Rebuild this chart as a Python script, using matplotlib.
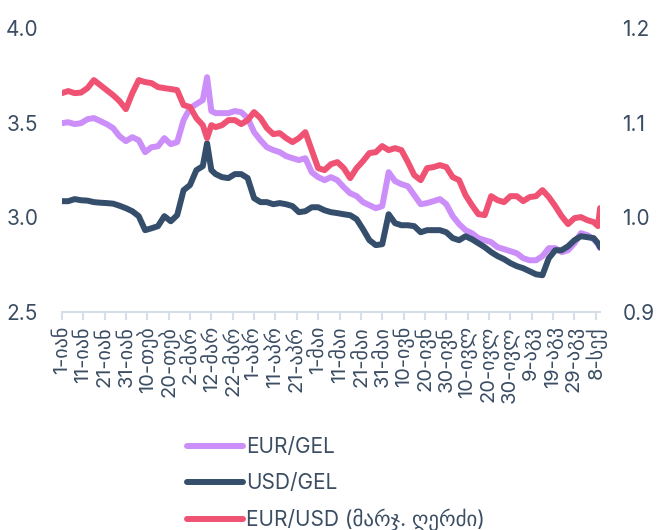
import matplotlib.pyplot as plt

plt.rcParams['font.family'] = ['Inter', 'DejaVu Sans']

# day offsets from 1 January
days = [0, 3, 6, 9, 12, 15, 18, 21, 24, 27, 30, 33, 36, 39, 42, 45, 48, 51, 54, 57, 60, 63, 66,
        68, 70, 72,
        75, 78, 81, 84, 87, 90, 93, 96, 99, 102, 105, 108, 111, 114, 117, 120, 123, 126, 129,
        132, 135, 138, 141, 144, 147, 150, 153, 156, 159, 162, 165, 168, 171, 174, 177, 180,
        183, 186, 189, 192, 195, 198, 201, 204, 207, 210, 213, 216, 219, 222, 225, 228, 231,
        234, 237, 240, 243, 246, 249, 251, 252]

eur_gel = [3.498, 3.503, 3.493, 3.498, 3.519, 3.525, 3.509, 3.493, 3.472, 3.429, 3.403, 3.424,
           3.408, 3.345, 3.371, 3.376, 3.419, 3.387, 3.398, 3.514, 3.577, 3.599, 3.620,
           3.741, 3.562, 3.551,
           3.551, 3.551, 3.562, 3.556, 3.525, 3.451, 3.408, 3.371, 3.356, 3.345, 3.324, 3.313,
           3.303, 3.313, 3.239, 3.213, 3.197, 3.213, 3.197, 3.160, 3.128, 3.113, 3.081, 3.065,
           3.049, 3.060, 3.239, 3.192, 3.176, 3.165, 3.118, 3.070, 3.076, 3.086, 3.097, 3.070,
           3.007, 2.965, 2.933, 2.917, 2.891, 2.880, 2.870, 2.843, 2.833, 2.822, 2.811, 2.785,
           2.774, 2.774, 2.796, 2.838, 2.838, 2.817, 2.827, 2.864, 2.917, 2.907, 2.885, 2.859,
           2.838]

usd_gel = [3.086, 3.086, 3.097, 3.091, 3.089, 3.081, 3.078, 3.076, 3.073, 3.062, 3.049, 3.033,
           3.007, 2.933, 2.943, 2.954, 3.007, 2.980, 3.012, 3.144, 3.171, 3.250, 3.271,
           3.392, 3.250, 3.229,
           3.213, 3.208, 3.229, 3.229, 3.208, 3.102, 3.081, 3.081, 3.070, 3.076, 3.070, 3.060,
           3.028, 3.033, 3.054, 3.054, 3.038, 3.028, 3.023, 3.017, 3.012, 2.991, 2.938, 2.880,
           2.854, 2.859, 3.017, 2.970, 2.959, 2.959, 2.954, 2.922, 2.933, 2.933, 2.933, 2.922,
           2.891, 2.880, 2.901, 2.885, 2.864, 2.843, 2.817, 2.796, 2.780, 2.759, 2.743, 2.732,
           2.716, 2.700, 2.695, 2.785, 2.827, 2.827, 2.848, 2.880, 2.901, 2.896, 2.891, 2.864,
           2.843]

eur_usd = [1.1313, 1.1335, 1.1313, 1.1319, 1.1366, 1.1451, 1.1398, 1.1345, 1.1292, 1.1229,
           1.1144, 1.1313, 1.1451, 1.1430, 1.1419, 1.1377, 1.1366, 1.1356, 1.1345, 1.1187,
           1.1166, 1.1049, 1.0975,
           1.0838, 1.0975, 1.0954,
           1.0975, 1.1028, 1.1028, 1.0986, 1.1028, 1.1113, 1.1049, 1.0944, 1.0880, 1.0891,
           1.0838, 1.0796, 1.0838, 1.0901, 1.0711, 1.0521, 1.0500, 1.0563, 1.0585, 1.0521,
           1.0416, 1.0521, 1.0595, 1.0680, 1.0690, 1.0754, 1.0711, 1.0732, 1.0711, 1.0585,
           1.0447, 1.0394, 1.0521, 1.0532, 1.0553, 1.0532, 1.0426, 1.0394, 1.0236, 1.0130,
           1.0035, 1.0025, 1.0225, 1.0183, 1.0162, 1.0225, 1.0225, 1.0173, 1.0215, 1.0225,
           1.0289, 1.0215, 1.0120, 1.0014, 0.9930, 0.9993, 1.0004, 0.9972, 0.9951, 0.9909,
           1.0099]

tick_days = [0, 10, 20, 30, 40, 50, 60, 70, 80, 90, 100, 110, 120, 130, 140, 150, 160, 170,
             180, 190, 200, 210, 220, 230, 240, 250]
tick_labels = ['1-იან', '11-იან', '21-იან', '31-იან', '10-თებ', '20-თებ', '2-მარ', '12-მარ',
               '22-მარ', '1-აპრ', '11-აპრ', '21-აპრ', '1-მაი', '11-მაი', '21-მაი', '31-მაი',
               '10-ივნ', '20-ივნ', '30-ივნ', '10-ივლ', '20-ივლ', '30-ივლ', '9-აგვ', '19-აგვ',
               '29-აგვ', '8-სექ']

text_col = '#3b4d63'
axis_col = '#d6dee9'
c_eur_gel = '#cc8ffa'
c_usd_gel = '#344e6b'
c_eur_usd = '#f05274'

fig = plt.figure(figsize=(6.72, 5.30), dpi=100)
ax = fig.add_axes([0.092, 0.411, 0.801, 0.536])
ax2 = ax.twinx()

lw = 4.3
l1, = ax.plot(days, eur_gel, color=c_eur_gel, lw=lw, solid_joinstyle='round',
              solid_capstyle='round', label='EUR/GEL')
l2, = ax.plot(days, usd_gel, color=c_usd_gel, lw=lw, solid_joinstyle='round',
              solid_capstyle='round', label='USD/GEL')
l3, = ax2.plot(days, eur_usd, color=c_eur_usd, lw=lw, solid_joinstyle='round',
               solid_capstyle='round', label='EUR/USD (მარჯ. ღერძი)')

ax.set_xlim(0, 252)
ax.set_ylim(2.5, 4.0)
ax2.set_ylim(0.9, 1.2)
ax.set_yticks([2.5, 3.0, 3.5, 4.0])
ax2.set_yticks([0.9, 1.0, 1.1, 1.2])
ax.set_xticks(tick_days)
ax.set_xticklabels(tick_labels, rotation=90, fontsize=14.5, color=text_col)

for a in (ax, ax2):
    for s in ('top', 'left', 'right'):
        a.spines[s].set_visible(False)
    a.spines['bottom'].set_color(axis_col)
    a.spines['bottom'].set_linewidth(1.5)
ax2.spines['bottom'].set_visible(False)

ax.tick_params(axis='y', length=0, pad=17, labelsize=15, labelcolor=text_col)
ax2.tick_params(axis='y', length=0, pad=16, labelsize=15, labelcolor=text_col)
ax.tick_params(axis='x', length=6, width=1.5, color=axis_col, pad=4)

fig.legend(handles=[l1, l2, l3], loc='upper left', bbox_to_anchor=(0.25, 0.21),
           frameon=False, fontsize=15, handlelength=2.7, handletextpad=0.15,
           labelspacing=0.75, labelcolor=text_col)

fig.savefig('out.png', dpi=100)
